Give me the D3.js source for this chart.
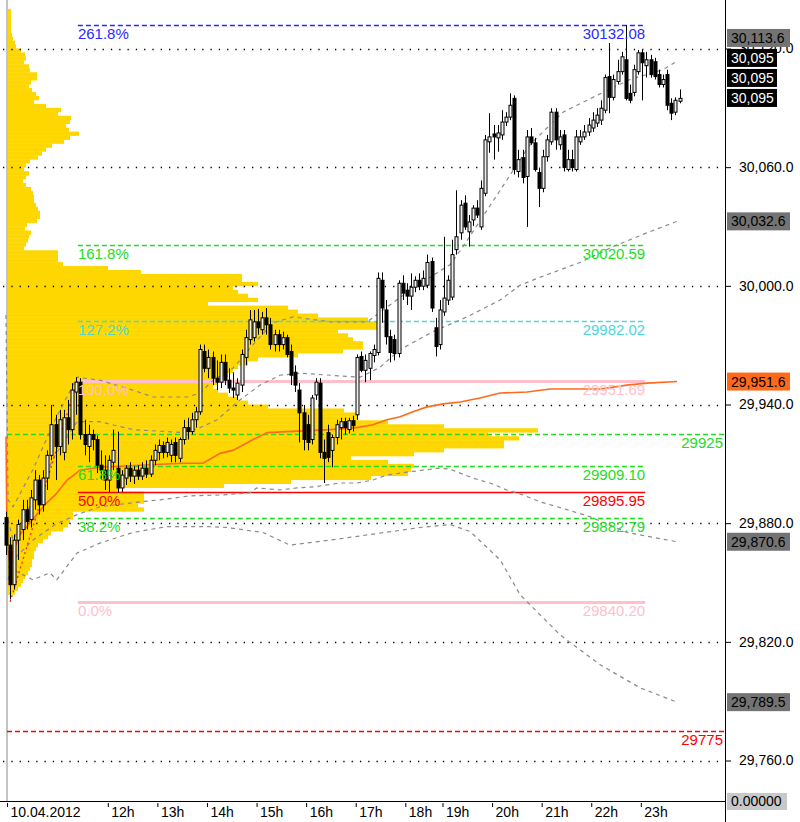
<!DOCTYPE html>
<html><head><meta charset="utf-8">
<script src="https://cdn.jsdelivr.net/npm/d3@7"></script>
<style>body{margin:0;background:#fff;}svg{display:block;font-family:"Liberation Sans",Arial,sans-serif;}</style>
</head><body><svg id="c" width="800" height="822"></svg>
<script>
// ---------- DATA ----------
// 5-minute candles [open, high, low, close]
const ohlc = [
[29882.8,29885.8,29863.9,29868.9],[29868.9,29872.9,29841.4,29848.9],[29848.9,29874.3,29846.4,29871.4],[29871.4,29881.8,29861.4,29879.3],
[29876.8,29891.8,29871.4,29886.8],[29886.8,29891.8,29876.8,29880.8],[29881.8,29896.8,29877.8,29892.8],[29891.8,29906.8,29886.8,29901.8],
[29901.8,29904.3,29884.3,29889.3],[29889.3,29906.8,29885.8,29902.8],[29902.8,29916.8,29896.8,29914.3],[29914.3,29939.8,29911.8,29929.8],
[29929.8,29934.8,29901.8,29918.8],[29918.8,29937.3,29914.3,29932.3],[29915.8,29937.3,29911.8,29933.3],[29933.3,29942.3,29919.8,29927.3],
[29927.3,29950.8,29922.3,29947.3],[29946.3,29953.8,29934.8,29951.3],[29951.3,29953.3,29922.3,29924.8],[29924.8,29932.3,29914.3,29919.8],
[29918.8,29929.8,29910.8,29924.8],[29924.8,29927.3,29916.8,29922.3],[29922.3,29924.3,29905.3,29909.3],[29909.3,29916.8,29901.8,29906.8],
[29906.8,29914.3,29896.8,29901.8],[29901.8,29914.3,29895.8,29911.8],[29910.8,29927.3,29906.8,29916.8],[29907.8,29926.3,29895.3,29897.8],
[29897.8,29906.8,29895.8,29904.3],[29902.8,29909.3,29899.3,29907.8],[29907.8,29910.8,29900.8,29903.8],[29903.8,29908.8,29899.8,29906.8],
[29906.8,29909.3,29901.8,29903.8],[29903.8,29910.8,29901.8,29907.8],[29907.8,29911.8,29902.8,29904.8],[29904.8,29914.3,29903.3,29911.8],
[29911.8,29919.8,29909.3,29916.8],[29915.8,29922.3,29911.8,29919.3],[29919.3,29921.3,29912.8,29915.8],[29915.8,29923.3,29913.3,29920.8],
[29914.3,29922.3,29910.8,29919.8],[29920.8,29923.3,29910.8,29914.3],[29912.8,29923.3,29910.8,29922.3],[29922.3,29932.3,29919.8,29928.3],
[29928.3,29933.3,29922.3,29926.3],[29926.3,29935.8,29924.8,29932.3],[29932.3,29938.8,29928.3,29936.3],[29936.3,29970.3,29934.8,29967.8],
[29966.8,29970.3,29956.3,29958.3],[29958.3,29967.8,29953.3,29963.8],[29963.8,29966.8,29949.8,29953.3],[29953.3,29962.3,29947.3,29951.3],
[29951.3,29965.3,29948.3,29961.3],[29961.3,29965.3,29949.8,29952.3],[29952.3,29958.3,29945.8,29948.3],[29948.3,29956.3,29943.3,29947.3],
[29944.8,29953.3,29942.3,29950.8],[29949.8,29967.8,29946.3,29965.3],[29963.8,29977.8,29959.8,29973.8],[29972.8,29987.8,29970.3,29982.8],
[29973.8,29987.8,29971.8,29981.8],[29981.8,29988.3,29975.3,29978.8],[29977.8,29986.8,29975.3,29983.8],[29983.8,29988.8,29975.3,29980.3],
[29980.3,29983.8,29967.8,29970.3],[29970.3,29977.8,29966.8,29975.3],[29975.3,29977.8,29966.8,29970.3],[29970.3,29976.8,29967.8,29973.8],
[29973.8,29975.3,29963.8,29965.3],[29966.8,29970.3,29949.8,29954.8],[29956.3,29959.8,29946.3,29949.8],[29947.3,29950.8,29920.8,29935.8],
[29935.8,29939.8,29916.8,29922.3],[29929.8,29934.8,29916.8,29920.8],[29922.3,29944.8,29919.8,29943.3],[29944.8,29953.3,29942.3,29951.3],
[29950.8,29953.3,29912.8,29915.8],[29915.8,29922.3,29900.3,29912.8],[29925.8,29929.8,29910.8,29913.3],[29916.8,29924.8,29908.3,29923.3],
[29923.3,29932.3,29919.8,29929.8],[29928.3,29933.3,29922.3,29931.3],[29931.3,29933.3,29924.8,29928.3],[29927.3,29933.3,29925.3,29931.8],
[29931.8,29934.3,29926.3,29929.3],[29934.8,29965.3,29932.3,29963.8],[29964.3,29966.8,29956.3,29957.3],[29957.3,29965.3,29951.3,29962.3],
[29958.3,29966.8,29952.3,29965.8],[29964.8,29970.3,29961.3,29967.8],[29966.3,30006.8,29964.8,30003.8],[30002.8,30006.8,29981.3,29988.8],
[29987.8,29992.8,29970.3,29974.3],[29974.3,29977.8,29961.3,29966.3],[29972.8,29975.3,29962.3,29965.8],[29965.8,30002.8,29963.8,30001.3],
[30001.3,30005.3,29992.8,29996.3],[29997.8,30001.3,29990.3,29994.8],[29994.8,30006.3,29987.8,29999.3],[29999.3,30004.8,29996.8,30002.8],
[30002.8,30006.3,29997.8,29999.8],[29999.8,30007.8,29997.8,30003.8],[30000.3,30015.8,29998.8,30011.8],[30012.3,30014.3,29986.8,29988.8],
[29978.8,29983.8,29964.3,29969.3],[29970.3,29992.8,29967.8,29987.8],[29986.8,30024.8,29984.8,29993.8],[29992.8,30005.3,29990.3,30002.8],
[29994.3,30023.3,29992.8,30015.8],[30018.3,30048.3,30015.8,30024.8],[30026.8,30043.3,30023.3,30040.8],[30041.8,30045.8,30028.3,30029.8],
[30027.3,30035.8,30019.8,30032.3],[30033.3,30040.8,30030.3,30039.3],[30039.3,30043.3,30034.3,30035.8],[30029.8,30053.3,30028.3,30049.3],
[30046.8,30076.3,30045.3,30073.8],[30072.8,30087.3,30067.3,30075.3],[30076.8,30081.3,30063.8,30075.3],[30074.8,30081.3,30067.8,30077.3],
[30076.3,30088.8,30073.8,30082.8],[30082.8,30087.8,30080.8,30085.3],[30085.3,30097.3,30083.8,30091.3],[30094.8,30096.3,30056.3,30058.8],
[30057.8,30068.8,30054.8,30063.8],[30064.8,30068.8,30051.8,30054.8],[30055.3,30078.8,30029.8,30075.3],[30075.3,30079.8,30071.3,30072.3],
[30072.3,30074.8,30057.8,30058.8],[30057.3,30059.8,30039.8,30049.3],[30049.3,30068.8,30047.3,30065.3],[30065.3,30076.3,30062.8,30073.8],
[30072.8,30089.8,30071.3,30087.8],[30087.8,30089.8,30068.8,30073.8],[30071.3,30078.8,30068.8,30075.3],[30076.3,30078.8,30057.8,30059.8],
[30058.8,30068.8,30057.8,30063.8],[30063.8,30068.8,30057.8,30059.8],[30058.8,30078.8,30057.8,30075.3],[30072.8,30078.8,30071.3,30075.3],
[30075.3,30081.3,30073.8,30077.8],[30077.8,30084.8,30075.8,30081.3],[30079.8,30087.8,30077.8,30083.8],[30082.3,30089.8,30080.3,30086.3],
[30083.8,30093.8,30081.3,30089.8],[30088.8,30106.8,30087.3,30105.3],[30105.8,30122.8,30087.3,30095.3],[30095.3,30106.8,30093.8,30104.3],
[30103.3,30114.3,30101.8,30108.3],[30108.3,30118.3,30106.8,30115.8],[30114.3,30131.8,30093.8,30094.8],[30097.3,30101.8,30092.3,30093.8],
[30097.8,30111.8,30095.8,30109.3],[30108.3,30119.3,30106.8,30117.8],[30117.8,30119.3,30093.8,30112.8],[30111.3,30118.3,30105.3,30114.3],
[30114.3,30116.8,30105.3,30106.8],[30113.3,30115.3,30104.3,30105.8],[30106.8,30109.3,30100.3,30101.8],[30101.8,30106.8,30100.3,30104.3],
[30106.8,30109.3,30088.8,30091.3],[30092.3,30094.8,30083.8,30087.3],[30087.8,30095.3,30086.3,30093.8],[30093.3,30099.3,30092.3,30094.8]
];
// time axis: candle index of each label
const timeIdx = [0.6,25,37,49,61,73,85,97,106,118,130,142,154];
const timeLabels = ["10.04.2012","12h","13h","14h","15h","16h","17h","18h","19h","20h","21h","22h","23h"];
// price axis ticks
const priceTicks = [29760,29820,29880,29940,30000,30060,30120];
// VWAP and deviation bands [candle index, price]
const vwap = [[0,29923.8],[0.25,29868.9],[1,29858.9],[1.7,29865.4],[3.4,29874.3],[6.5,29881.8],[9.4,29889.3],[11.9,29894.3],[14.8,29901.8],[17.9,29906.8],[22.7,29908.3],[32.4,29909.3],[42.8,29910.3],[47.7,29910.3],[51.8,29915.3],[54.9,29916.8],[59.8,29922.3],[63.2,29925.8],[68,29926.3],[78.4,29927.3],[84.9,29928.3],[88.8,29929.8],[92.2,29932.3],[95.4,29933.8],[98.5,29936.3],[101.9,29938.8],[105.8,29940.3],[109.9,29941.3],[114.7,29943.3],[119.6,29945.8],[126.1,29946.3],[131.7,29947.8],[143.8,29947.8],[150.3,29949.8],[155.1,29950.8],[162.4,29951.6]];
const upper2 = [[0,29985.3],[0.5,29891.8],[1.7,29888.3],[6.5,29907.0],[11.9,29932.3],[17.2,29953.8],[22.7,29952.3],[30.7,29947.3],[35.6,29943.8],[43.8,29943.8],[47,29945.8],[50.1,29952.3],[54.9,29958.3],[59.8,29970.3],[64.6,29981.3],[69.5,29984.3],[78.4,29981.8],[87.4,29981.8],[92.9,29990.3],[97.8,29997.8],[102.6,30004.3],[107.5,30010.8],[110.6,30019.8],[118.8,30045.8],[126.8,30071.3],[134.8,30087.8],[143,30096.3],[151,30104.3],[159,30109.3],[162.4,30113.6]];
const upper1 = [[0.5,29881.8],[1.7,29871.4],[6.5,29891.8],[11.9,29914.3],[17.2,29931.3],[22.7,29931.3],[30.7,29927.3],[42.8,29925.8],[47,29928.3],[51.1,29932.3],[56.6,29942.3],[61.5,29949.8],[66.3,29954.8],[71.2,29955.8],[85.7,29953.8],[90.5,29958.8],[95.4,29967.8],[103.3,29976.8],[111.6,29984.3],[119.6,29992.8],[124.4,30000.3],[129.2,30004.3],[138.9,30011.8],[146.9,30019.8],[155.1,30026.8],[162.4,30032.6]];
const lower1 = [[0.5,29851.4],[1.7,29861.4],[6.5,29871.4],[11.9,29879.3],[17.2,29884.3],[22.7,29888.3],[32.4,29890.8],[37.3,29891.8],[44.5,29893.8],[52.5,29894.3],[59,29895.3],[60.7,29897.8],[66.3,29896.8],[70.4,29897.8],[74.3,29898.3],[80.8,29900.3],[84.9,29900.3],[88.8,29901.8],[92.2,29904.3],[97,29905.8],[100.9,29906.8],[105,29907.8],[107.5,29907.3],[109.9,29905.3],[113,29902.8],[117.1,29900.3],[121.2,29896.8],[125.1,29894.3],[129.2,29890.8],[133.4,29888.3],[141.3,29883.3],[150.3,29875.3],[162.4,29870.6]];
const lower2 = [[0.5,29858.0],[1.7,29856.4],[6.5,29851.4],[10.6,29854.9],[12.3,29851.4],[17.2,29864.9],[22.7,29869.9],[30.7,29875.3],[39,29878.3],[48.6,29878.3],[53.5,29877.8],[62.2,29875.3],[68.7,29868.9],[78.4,29871.4],[100.2,29877.8],[107.5,29879.3],[112.3,29875.8],[119.6,29861.4],[124.4,29843.9],[134.1,29823.5],[143.8,29808.4],[153.4,29796.8],[162.4,29789.5]];
// Fibonacci retracement
const fibAnchor = [[1,29840.20],[17.2,29951.69]];
const fibSpan = [17.4,154.7];
const fibLabels = ["261.8%","161.8%","127.2%","100.0%","61.8%","50.0%","38.2%","0.0%"];
const fibPrices = [30132.08,30020.59,29982.02,29951.69,29909.10,29895.95,29882.79,29840.20];
const fibColors = ["#2a2aff","#22dd22","#4fd6d6","#ffc0cb","#22dd22","#ff0000","#22dd22","#ffc0cb"];
// horizontal alert lines
const alertPrices = [29925,29775];
const alertColors = ["#22dd22","#ff0000"];
// volume profile: volumes per 2-point bin, from 30140 downward
const profileTop = 30140, profileStep = 2;
const profileVolumes = [3,3,3,3,3,3,4,5,7,8,13,17,18,16,21,22,29,29,23,21,24,28,31,26,38,53,50,63,62,58,61,71,62,56,44,38,34,30,22,18,
16,21,18,15,18,23,25,26,26,28,30,32,32,29,19,17,23,21,20,18,16,50,50,50,55,100,133,234,234,250,225,230,240,250,200,280,290,310,360,370,
370,330,340,345,355,355,335,290,250,240,230,225,220,215,210,205,210,220,230,240,260,336,350,350,380,436,530,480,511,496,496,436,406,343,380,406,403,400,363,283,
216,110,136,136,136,130,136,65,65,62,60,55,43,40,35,30,28,26,26,24,24,22,20,17,15,13,10,7];
// right-side price markers
const markerPrices = [30113.6,30095,30095,30095,30032.6,29951.6,29870.6,29789.5];
const markerTexts = ["30,113.6","30,095","30,095","30,095","30,032.6","29,951.6","29,870.6","29,789.5"];
const markerKinds = ["band","last","last","last","band","vwap","band","band"];

// ---------- CHART ----------
const svg = d3.select("#c");
const axisX = 725, axisY = 801;
const x = d3.scaleLinear().domain([0,163]).range([6, 6 + 4.132*163]);
const y = d3.scaleLinear().domain([29760,30120]).range([760.5,48.5]);
const vol = d3.scaleLinear().domain([0,100]).range([0,100]);
const crisp = v => Math.round(v) + 0.5;

// volume profile
svg.append("g").selectAll("rect").data(profileVolumes).join("rect")
  .attr("x", 8)
  .attr("y", (d,i) => y(profileTop - i*profileStep))
  .attr("width", d => vol(d))
  .attr("height", (d,i) => y(profileTop - (i+1)*profileStep) - y(profileTop - i*profileStep) + 0.4)
  .attr("fill", "#ffd700");

// left gray border
svg.append("line").attr("x1",7).attr("x2",7).attr("y1",0).attr("y2",axisY).attr("stroke","#c4c4c4").attr("stroke-width",2);

// dotted grid
svg.append("g").selectAll("line").data(priceTicks).join("line")
  .attr("x1",3).attr("x2",axisX).attr("y1",d=>crisp(y(d))).attr("y2",d=>crisp(y(d)))
  .attr("stroke","#000").attr("stroke-width",1.3).attr("stroke-dasharray","1.3,7");

// alert lines
alertPrices.forEach((p,i)=>{
  svg.append("line").attr("x1",7).attr("x2",axisX).attr("y1",crisp(y(p))).attr("y2",crisp(y(p)))
    .style("stroke",alertColors[i]).attr("stroke-width",1.5).attr("stroke-dasharray","5,3");
  svg.append("text").attr("x",723).attr("y",y(p)+14).attr("text-anchor","end")
    .attr("font-size",15).attr("fill",alertColors[i]).text(String(p));
});

// fibonacci lines
fibPrices.forEach((p,i)=>{
  const solid = (fibLabels[i]==="100.0%"||fibLabels[i]==="0.0%"||fibLabels[i]==="50.0%");
  const w = fibLabels[i]==="50.0%" ? 1.6 : (solid ? 3 : 1.3);
  svg.append("line").attr("x1",x(fibSpan[0])).attr("x2",x(fibSpan[1]))
    .attr("y1",crisp(y(p))).attr("y2",crisp(y(p)))
    .attr("stroke",fibColors[i]).attr("stroke-width",w)
    .attr("stroke-dasharray", solid ? null : "5,3");
});

// bands
const line = d3.line().x(d=>x(d[0])).y(d=>y(d[1]));
[upper2,upper1,lower1,lower2].forEach(b=>{
  svg.append("path").attr("d",line(b)).attr("fill","none")
    .attr("stroke","#8a8a8a").attr("stroke-width",1.2).attr("stroke-dasharray","4,4");
});
// fib anchor trend line
svg.append("path").attr("d",line(fibAnchor)).attr("fill","none")
  .attr("stroke","#ff2020").attr("stroke-width",1.3).attr("stroke-dasharray","2,3");
// vwap
svg.append("path").attr("d",line(vwap)).attr("fill","none")
  .attr("stroke","#ff6a1a").attr("stroke-width",1.6);

// candles
const cg = svg.append("g");
ohlc.forEach((c,i)=>{
  const cx = Math.round(x(i)) + 0.5;
  const [o,h,l,cl] = c;
  cg.append("line").attr("x1",cx).attr("x2",cx).attr("y1",y(h)).attr("y2",y(l)).attr("stroke","#000").attr("stroke-width",1);
  const top = y(Math.max(o,cl)), bot = y(Math.min(o,cl));
  cg.append("rect").attr("x",cx-1.5).attr("y",top).attr("width",3).attr("height",Math.max(1,bot-top))
    .attr("fill", cl>=o ? "#efefef" : "#000").attr("stroke","#000").attr("stroke-width",1);
});

// fib labels
fibPrices.forEach((p,i)=>{
  svg.append("text").attr("x",x(fibSpan[0])).attr("y",y(p)+14).attr("font-size",15)
    .attr("fill",fibColors[i]).text(fibLabels[i]);
  svg.append("text").attr("x",x(fibSpan[1])).attr("y",y(p)+14).attr("font-size",15)
    .attr("text-anchor","end").attr("fill",fibColors[i]).text(p.toFixed(2));
});

// right axis
svg.append("rect").attr("x",axisX+1).attr("y",0).attr("width",800-axisX).attr("height",822).attr("fill","#fff");
const ra = svg.append("g").attr("transform",`translate(${axisX},0)`)
  .call(d3.axisRight(y).tickValues(priceTicks).tickSize(6).tickPadding(8).tickFormat(d3.format(",.1f")));
ra.select(".domain").remove();
ra.selectAll("text").attr("font-size",14).attr("font-family","Liberation Sans, Arial, sans-serif").attr("fill","#000");
svg.append("line").attr("x1",axisX+0.5).attr("x2",axisX+0.5).attr("y1",0).attr("y2",822).attr("stroke","#000");

// bottom axis
svg.append("line").attr("x1",0).attr("x2",axisX).attr("y1",axisY+0.5).attr("y2",axisY+0.5).attr("stroke","#000");
const bx = d3.scaleLinear().domain(x.domain()).range(x.range().map(v=>v-1.5));
const ba = svg.append("g").attr("transform",`translate(0,${axisY})`)
  .call(d3.axisBottom(bx).tickValues(timeIdx).tickSize(6).tickFormat((d,i)=>timeLabels[i]));
ba.select(".domain").remove();
ba.selectAll(".tick line").attr("y1",2);
ba.selectAll("text").attr("font-size",14).attr("font-family","Liberation Sans, Arial, sans-serif")
  .attr("text-anchor","start").attr("x",3).attr("y",16).attr("dy",null).attr("fill","#000");

// price markers (stacked to avoid overlap)
const order = d3.range(markerPrices.length).sort((a,b)=>markerPrices[a]-markerPrices[b]);
let prev = Infinity;
const centers = [];
order.forEach(i=>{ let c = y(markerPrices[i]); if (c > prev - 20) c = prev - 20; centers[i]=c; prev=c; });
const fills = {band:"#737373", last:"#000", vwap:"#ff6a1a"};
markerPrices.forEach((p,i)=>{
  const k = markerKinds[i];
  const w = k==="last" ? 50 : 63;
  svg.append("rect").attr("x",727).attr("y",centers[i]-9).attr("width",w).attr("height",18).attr("fill",fills[k]);
  svg.append("text").attr("x",731).attr("y",centers[i]+5).attr("font-size",14)
    .attr("fill", k==="last" ? "#fff" : "#000").text(markerTexts[i]);
});
svg.append("rect").attr("x",727).attr("y",793).attr("width",60).attr("height",17).attr("fill","#c8c8c8");
svg.append("text").attr("x",731).attr("y",806).attr("font-size",14).attr("fill","#000").text("0.00000");
</script></body></html>
